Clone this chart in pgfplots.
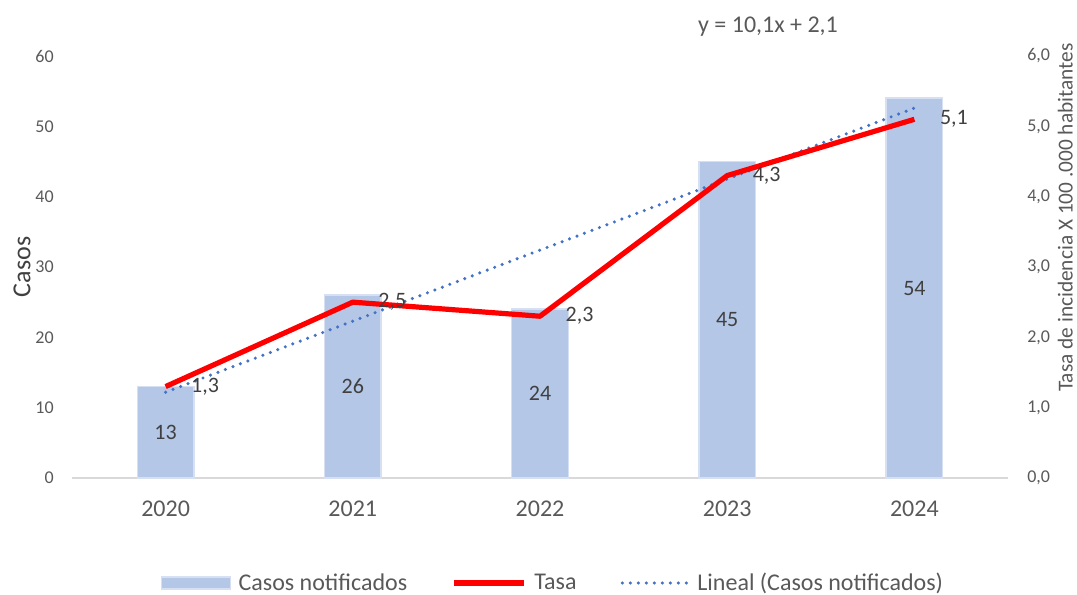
\documentclass[border=0pt]{standalone}
\usepackage{fontspec}
\setmainfont{Carlito}
\usepackage{pgfplots}
\pgfplotsset{compat=1.18}
\definecolor{barfill}{HTML}{B4C7E7}
\definecolor{baredge}{HTML}{D6E0F2}
\definecolor{trend}{HTML}{4472C4}
\definecolor{tickc}{HTML}{595959}
\definecolor{labc}{HTML}{404040}
\definecolor{axisline}{HTML}{D9D9D9}
\begin{document}
\begin{tikzpicture}
\useasboundingbox (0pt,0pt) rectangle (807.75pt,446.25pt);
% left axis: bars + trend
\begin{axis}[
  at={(54pt,87.75pt)}, anchor=south west,
  width=702pt, height=316.5pt, scale only axis,
  xmin=-0.5, xmax=4.5, ymin=0, ymax=60,
  axis x line*=bottom, axis y line*=left,
  x axis line style={draw=axisline, line width=1.1pt, -},
  y axis line style={draw=none},
  tick style={draw=none},
  xtick={0,1,2,3,4}, xticklabels={2020,2021,2022,2023,2024},
  ytick={0,10,...,60},
  /pgf/number format/assume math mode=true,
  xticklabel style={font=\fontsize{18}{20}\selectfont, text=tickc, anchor=base, inner sep=0pt, yshift=-29.25pt},
  yticklabel style={font=\fontsize{13.5}{16}\selectfont, text=tickc, anchor=east, inner sep=0pt, xshift=-13.5pt},
  clip=false,
]
\addplot[ybar, bar width=42.4pt, fill=barfill, draw=baredge, line width=1.1pt,
  nodes near coords,
  visualization depends on=y \as \rawy,
  every node near coord/.append style={font=\fontsize{16.5}{18}\selectfont, text=labc, anchor=center, inner sep=0pt, shift={(axis direction cs:0,-\rawy/2)}}]
  coordinates {(0,13) (1,26) (2,24) (3,45) (4,54)};
\addplot[trend, line width=2.6pt, dash pattern=on 0pt off 6pt, line cap=round]
  coordinates {(0,12.2) (4,52.6)};
\end{axis}
% right axis: rate
\begin{axis}[
  at={(54pt,87.75pt)}, anchor=south west,
  width=702pt, height=316.5pt, scale only axis,
  xmin=-0.5, xmax=4.5, ymin=0, ymax=6,
  axis x line=none, axis y line*=right,
  y axis line style={draw=none},
  tick style={draw=none},
  ytick={0,1,...,6},
  yticklabel={\pgfmathprintnumber[fixed,fixed zerofill,precision=1,use comma,assume math mode=true]{\tick}},
  yticklabel style={font=\fontsize{13.5}{16}\selectfont, text=tickc, anchor=west, inner sep=0pt, xshift=14.25pt},
  clip=false,
  legend columns=3,
  legend style={at={(0.513,-0.2488)}, anchor=center, draw=none, fill=none,
    font=\fontsize{18}{20}\selectfont, text=tickc, inner sep=0pt,
    nodes={inner sep=0pt},
    column sep=5.5pt,
    /tikz/every even column/.append style={column sep=33pt}},
]
\addlegendimage{legend image code/.code={\fill[barfill, draw=baredge, line width=0.8pt] (0pt,-4.5pt) rectangle (51.75pt,4.5pt);}}
\addlegendentry{Casos notificados}
\addplot[red, line width=3.9pt, line join=round,
  legend image code/.code={\draw[red, line width=3.9pt] (0pt,0pt) -- (53pt,0pt);},
  nodes near coords={\pgfmathprintnumber[fixed,fixed zerofill,precision=1,use comma,assume math mode=true]{\pgfplotspointmeta}},
  every node near coord/.append style={font=\fontsize{16.5}{18}\selectfont, text=labc, anchor=west, inner sep=0pt, xshift=17.25pt}]
  coordinates {(0,1.3) (1,2.5) (2,2.3) (3,4.3) (4,5.1)};
\addlegendentry{Tasa}
\addlegendimage{legend image code/.code={\draw[trend, line width=2.6pt, dash pattern=on 0pt off 6pt, line cap=round] (1.5pt,0pt) -- (51pt,0pt);}}
\addlegendentry{Lineal (Casos notificados)}
\end{axis}
\node[font=\fontsize{19.5}{22}\selectfont, text=labc, rotate=90] at (16.5pt,246pt) {Casos};
\node[font=\fontsize{16}{18}\selectfont, text=tickc, rotate=90, anchor=base] at (804.5pt,283pt) {Tasa de incidencia X 100 .000 habitantes};
\node[font=\fontsize{18}{20}\selectfont, text=tickc] at (576pt,426pt) {y = 10,1x + 2,1};
\end{tikzpicture}
\end{document}
